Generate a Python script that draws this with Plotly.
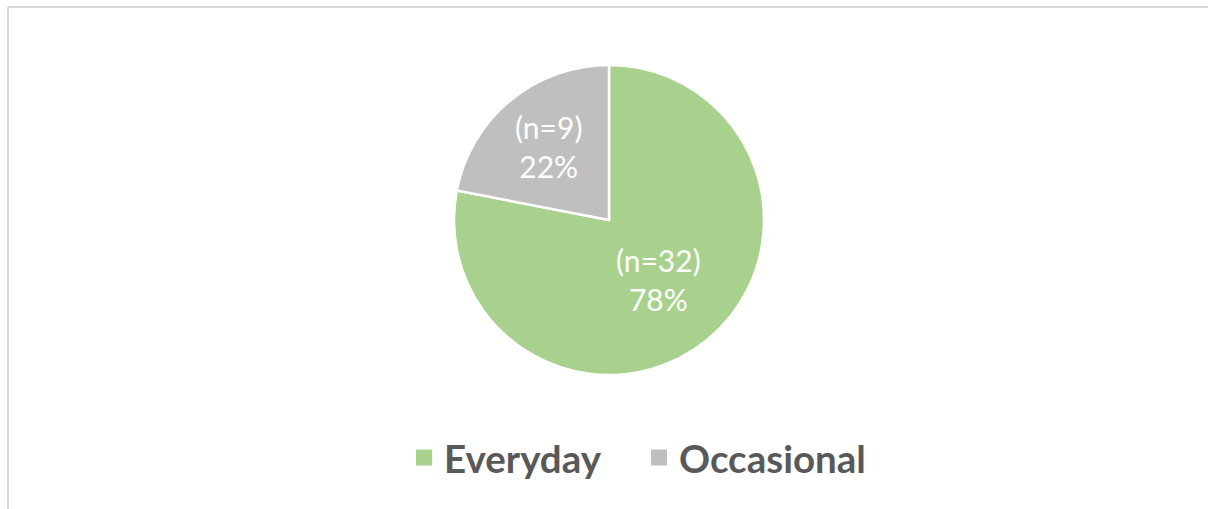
import plotly.graph_objects as go

categories = ["Everyday", "Occasional"]
counts = [32, 9]
colors = ["#A9D18E", "#BFBFBF"]

W, H = 1208, 509
cx, cy, r = 609, 220, 155

labels_text = [f"(n={c})<br>{round(100*c/sum(counts))}%" for c in counts]

fig = go.Figure()
fig.add_trace(go.Pie(
    labels=categories,
    values=counts,
    text=labels_text,
    textinfo="text",
    textposition="inside",
    insidetextorientation="horizontal",
    sort=False,
    direction="clockwise",
    rotation=0,
    showlegend=False,
    marker=dict(colors=colors, line=dict(color="white", width=2.5)),
    textfont=dict(family="Lato", size=30, color="white"),
    domain=dict(x=[(cx - r) / W, (cx + r) / W], y=[1 - (cy + r) / H, 1 - (cy - r) / H]),
    hoverinfo="label+value+percent",
))

# legend entries with larger square swatches
for name, col in zip(categories, colors):
    fig.add_trace(go.Scatter(
        x=[None], y=[None], mode="markers", name=name,
        marker=dict(symbol="square", size=19, color=col),
        showlegend=True, hoverinfo="skip",
    ))

fig.update_layout(
    width=W, height=H,
    margin=dict(l=0, r=0, t=0, b=0),
    paper_bgcolor="white",
    plot_bgcolor="white",
    showlegend=True,
    xaxis=dict(visible=False),
    yaxis=dict(visible=False),
    legend=dict(
        orientation="h",
        x=0.529, xanchor="center",
        y=1 - 458 / H, yanchor="middle",
        font=dict(family="Lato", size=38.5, color="#595959", weight="bold"),
        itemsizing="trace",
        traceorder="normal",
        entrywidth=190,
        entrywidthmode="pixels",
    ),
    shapes=[
        dict(type="line", xref="paper", yref="paper", x0=8 / W, x1=1.0, y0=1 - 7 / H, y1=1 - 7 / H,
             line=dict(color="#D9D9D9", width=2)),
        dict(type="line", xref="paper", yref="paper", x0=8 / W, x1=8 / W, y0=0, y1=1 - 7 / H,
             line=dict(color="#D9D9D9", width=2)),
    ],
)

fig.write_html(
    "out.html",
    config={"displayModeBar": False},
    post_script="document.body.style.margin='0';document.body.style.padding='0';",
)
